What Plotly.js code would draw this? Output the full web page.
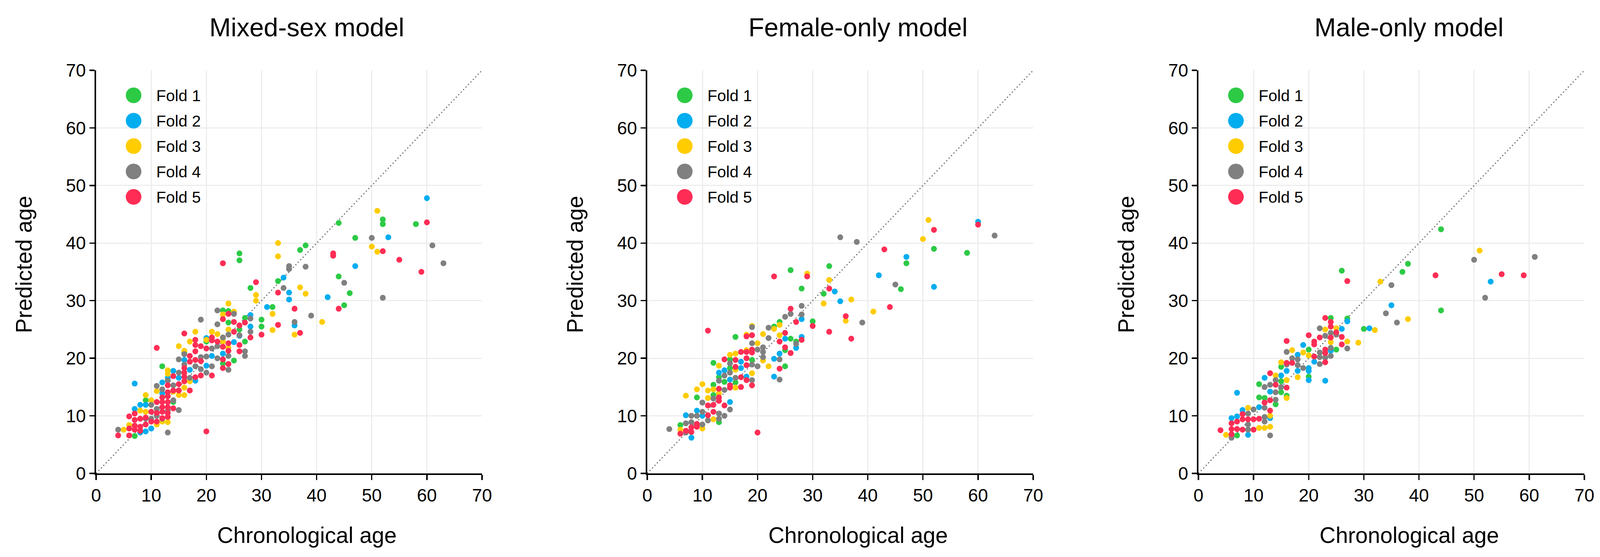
<!DOCTYPE html>
<html>
<head>
<meta charset="utf-8">
<script src="https://cdn.plot.ly/plotly-3.0.1.min.js"></script>
<style>
  html, body { margin: 0; padding: 0; background: #fff; }
  #chart { width: 4106px; height: 1426px; }
</style>
</head>
<body>
<div id="chart"></div>
<script>
var panelTitles = ['Mixed-sex model', 'Female-only model', 'Male-only model'];
var foldNames = ['Fold 1', 'Fold 2', 'Fold 3', 'Fold 4', 'Fold 5'];
var foldColors = ['#2dca46', '#00adef', '#ffcc00', '#808080', '#ff2d55'];
var xTitle = 'Chronological age';
var yTitle = 'Predicted age';
var tickValues = [0, 10, 20, 30, 40, 50, 60, 70];
var identityLine = [0, 70];

// points are [chronological age, predicted age]
var mixedFold1 = [[26,38.2],[26,37.0],[28,32.2],[27,27.0],[30,26.7],[30,25.5],[27,22.9],[25,19.6],[23,28.3],[24,28.2],
  [12,18.6],[9,12.7],[7,6.5],[23,19.1],[24,26.2],[26,25.0],[20,22.9],[16,21.0],[14,12.4],
  [44,43.5],[52,44.1],[52,43.3],[58,43.3],[47,40.9],[44,34.2],[46,31.3],[45,29.2],[37,38.8],[38,39.6],[33,33.4],[32,28.9]];
var mixedFold2 = [[31,28.9],[28,27.5],[28,25.5],[25,22.8],[16,19.7],[20,18.7],[14,17.8],[12,15.8],[15,16.6],[12,13.9],
  [7,15.6],[8,11.9],[9,11.9],[7,11.2],[10,7.8],[9,7.3],[8,7.1],[20,23.5],[17,18.0],[18,16.1],[26,23.9],[21,20.4],
  [23,20.8],[13,16.6],[60,47.8],[53,41.0],[47,36.0],[42,30.6],[34,34.0],[35,31.4],[35,30.2],[36,25.7]];
var mixedFold3 = [[29,31.0],[29,30.0],[24,29.5],[23,27.6],[25,28.1],[18,24.6],[17,22.9],[20,23.2],[21,24.6],[22,24.2],
  [23,22.9],[15,22.1],[16,21.3],[13,17.9],[13,17.3],[17,16.0],[16,14.9],[16,13.6],[15,13.6],[11,14.3],[9,13.6],
  [8,10.9],[9,10.7],[10,12.7],[11,8.5],[12,9.0],[13,8.9],[5,7.6],[6,8.4],[24,21.8],[24,25.0],[14,14.2],[23,23.6],
  [51,45.6],[50,39.4],[51,38.5],[33,40.0],[33,37.7],[37,32.3],[38,31.2],[32,27.7],[32,24.9],[41,26.3],[36,24.1]];
var mixedFold4 = [[22,28.3],[25,27.7],[19,26.7],[22,25.9],[28,26.9],[28,24.6],[27,21.2],[27,20.4],[22,22.1],[23,23.6],
  [24,24.1],[24,20.4],[24,18.0],[16,20.7],[15,19.8],[18,18.6],[19,20.2],[19,18.1],[20,17.5],[21,18.6],[15,17.5],
  [11,15.2],[13,16.1],[14,15.3],[12,14.6],[14,12.7],[15,11.0],[13,7.1],[10,11.9],[11,11.2],[10,9.5],[9,9.5],[4,7.6],
  [12,9.5],[26,24.0],[22,20.0],[21,21.7],[20,20.3],[16,18.9],[11,10.0],[13,10.9],[17,16.6],
  [50,40.9],[61,39.6],[63,36.5],[45,33.1],[39,27.4],[52,30.5],[35,36.0],[35,35.5],[38,35.9],[34,32.2],[36,26.3]];
var mixedFold5 = [[23,36.5],[29,33.2],[23,26.8],[25,26.3],[26,25.7],[27,26.2],[24,27.7],[28,23.6],[30,24.1],[26,22.3],
  [26,21.2],[16,24.3],[18,23.2],[18,22.3],[19,22.1],[20,21.7],[21,23.6],[21,23.1],[22,22.9],[23,22.0],[23,19.8],
  [23,18.3],[24,19.0],[24,22.6],[24,21.3],[25,24.6],[11,21.8],[17,20.4],[17,19.4],[18,21.2],[18,19.7],[18,16.7],
  [19,19.5],[19,17.0],[21,17.0],[17,14.4],[14,16.9],[16,18.3],[16,17.5],[16,16.8],[16,16.0],[13,15.3],[15,15.5],
  [14,14.4],[15,14.4],[12,13.2],[12,12.4],[12,11.5],[12,10.7],[13,14.1],[13,13.4],[13,12.4],[13,11.5],[13,10.5],
  [14,11.3],[20,7.3],[11,12.4],[10,10.7],[11,10.5],[11,9.0],[7,10.4],[6,9.9],[8,9.5],[9,8.5],[8,8.1],[7,9.3],
  [7,8.3],[7,7.6],[6,7.8],[6,6.6],[4,6.6],[13,9.8],[9,9.7],[10,9.0],[8,7.4],[12,9.6],
  [60,43.6],[52,38.6],[55,37.1],[59,35.0],[43,38.2],[43,37.8],[44,28.6],[33,31.4],[33,25.8],[36,28.6],[37,24.4]];

var femaleFold1 = [[26,35.3],[28,32.1],[32,31.2],[30,26.4],[23,25.5],[24,26.3],[16,23.7],[26,23.4],[27,22.9],[25,21.4],
  [19,19.7],[15,19.8],[15,18.3],[12,19.2],[13,16.7],[16,15.8],[12,15.4],[14,15.9],[9,13.2],[12,13.6],[13,8.9],[6,8.4],
  [25,18.6],[33,36.0],[47,36.5],[46,32.0],[52,39.0],[58,38.3]];
var femaleFold2 = [[28,26.8],[25,23.4],[28,23.7],[27,21.8],[17,19.4],[17,18.3],[13,17.5],[14,17.9],[15,16.3],[18,16.8],
  [15,12.4],[10,10.0],[9,10.9],[7,10.1],[8,6.2],[23,19.9],[24,20.8],[23,16.8],[34,31.6],[35,29.9],[42,34.4],
  [47,37.6],[52,32.4],[60,43.7]];
var femaleFold3 = [[29,34.7],[32,29.5],[19,25.6],[23,25.1],[24,25.8],[18,24.1],[21,24.2],[24,24.0],[20,22.6],[18,21.4],
  [21,19.6],[15,20.6],[16,20.8],[13,18.7],[16,18.0],[16,14.9],[11,14.4],[12,14.6],[10,15.5],[9,14.6],[7,13.5],
  [13,13.9],[11,13.1],[12,9.4],[10,7.8],[6,7.6],[22,18.6],[19,17.4],[33,33.6],[37,30.2],[36,26.5],[41,28.1],
  [51,44.0],[50,40.7]];
var femaleFold4 = [[28,29.1],[26,27.7],[25,27.2],[28,27.6],[19,25.4],[22,25.3],[22,23.5],[27,22.5],[19,22.6],[21,21.9],
  [21,21.1],[21,20.2],[20,21.5],[15,19.1],[19,18.9],[20,18.6],[15,17.5],[14,17.0],[16,16.6],[19,16.2],[13,16.1],
  [14,14.5],[12,13.0],[15,11.1],[10,12.3],[13,10.4],[13,9.5],[14,10.0],[11,9.2],[8,10.0],[9,10.0],[10,10.7],
  [10,8.5],[8,8.9],[7,8.7],[7,7.1],[4,7.7],[24,19.8],[24,16.3],[35,41.0],[38,40.2],[45,32.8],[39,26.2],[63,41.3]];
var femaleFold5 = [[23,34.2],[29,34.2],[26,28.6],[27,26.3],[30,25.6],[11,24.8],[18,23.8],[19,24.0],[25,24.4],[24,22.9],
  [28,23.2],[25,21.9],[26,20.9],[17,21.1],[18,21.1],[19,21.5],[19,21.0],[18,20.0],[14,19.8],[16,19.7],[18,18.8],
  [16,18.5],[17,16.7],[18,16.2],[19,15.3],[17,15.0],[15,14.9],[15,15.3],[13,14.7],[13,13.2],[13,12.6],[14,11.8],
  [11,11.8],[12,11.9],[12,10.7],[11,10.1],[9,8.6],[9,8.1],[8,8.0],[8,7.2],[7,7.4],[6,6.9],[20,7.1],[24,18.2],
  [33,32.1],[33,24.6],[36,27.3],[37,23.4],[44,28.9],[43,38.9],[52,42.3],[60,43.2]];

var maleFold1 = [[27,26.9],[30,25.1],[25,21.5],[24,27.0],[20,21.5],[15,18.5],[20,16.8],[15,16.0],[11,15.5],[15,14.1],
  [16,13.5],[11,13.2],[12,13.1],[14,12.0],[7,6.6],[26,35.2],[37,35.0],[38,36.4],[44,42.4],[44,28.3]];
var maleFold2 = [[27,26.4],[31,25.2],[26,25.1],[24,21.3],[19,22.3],[18,20.6],[21,19.4],[16,17.8],[18,17.8],[20,18.3],
  [20,17.8],[20,16.2],[23,16.1],[15,17.0],[12,16.6],[13,14.2],[11,11.5],[8,11.0],[7,9.9],[6,9.6],[9,6.7],[7,14.0],
  [13,9.6],[35,29.2],[53,33.3]];
var maleFold3 = [[32,24.9],[29,22.7],[27,22.9],[25,25.2],[24,22.8],[23,25.0],[17,21.4],[19,21.0],[20,20.5],[15,19.3],
  [18,16.7],[14,17.0],[16,16.2],[16,13.1],[9,11.4],[11,7.9],[12,7.9],[13,8.1],[13,10.0],[5,6.7],[33,33.3],[38,26.8],
  [51,38.7]];
var maleFold4 = [[27,21.7],[25,24.1],[24,24.4],[24,21.8],[24,20.4],[22,25.2],[23,23.9],[22,21.0],[22,20.2],[22,19.0],
  [23,20.1],[16,21.1],[17,20.0],[18,19.8],[16,18.9],[18,18.8],[19,18.3],[14,16.2],[15,15.0],[12,15.0],[13,15.4],
  [14,14.1],[14,12.8],[12,11.4],[10,11.1],[12,9.8],[12,9.0],[9,10.4],[9,8.5],[9,7.6],[13,6.6],[6,6.2],[35,32.7],
  [34,27.8],[36,26.2],[50,37.1],[61,37.6],[52,30.5]];
var maleFold5 = [[27,33.4],[26,23.7],[26,22.4],[25,24.5],[23,27.0],[24,26.3],[24,25.5],[24,23.6],[22,23.6],[20,24.0],
  [21,22.9],[21,22.4],[23,21.5],[23,20.9],[21,20.3],[23,19.3],[16,23.0],[16,19.2],[17,19.2],[13,17.4],[14,15.4],
  [16,14.9],[12,12.3],[13,12.7],[13,10.9],[8,10.3],[6,8.7],[7,9.0],[8,9.4],[9,9.4],[10,9.4],[11,9.5],[10,7.6],
  [4,7.5],[6,6.8],[7,7.7],[8,7.6],[6,7.7],[43,34.4],[55,34.6],[59,34.4]];

var panels = [
  [mixedFold1, mixedFold2, mixedFold3, mixedFold4, mixedFold5],
  [femaleFold1, femaleFold2, femaleFold3, femaleFold4, femaleFold5],
  [maleFold1, maleFold2, maleFold3, maleFold4, maleFold5]
];

// page geometry in pixels
var W = 4106, H = 1426;
var plotLeft = [246, 1657, 3068];
var plotWidth = 988;
var plotTop = 180, plotBottom = 1212;
var font = 'Liberation Sans, Arial, Helvetica, sans-serif';

function px(x) { return x / W; }
function py(y) { return 1 - y / H; }

var data = [];
var layout = {
  width: W,
  height: H,
  margin: { l: 0, r: 0, t: 0, b: 0 },
  paper_bgcolor: '#fff',
  plot_bgcolor: '#fff',
  showlegend: false,
  font: { family: font, color: '#000' },
  annotations: [],
  shapes: []
};

panels.forEach(function(folds, p) {
  var sfx = p === 0 ? '' : String(p + 1);

  data.push({
    x: identityLine, y: identityLine,
    xaxis: 'x' + sfx, yaxis: 'y' + sfx,
    mode: 'lines', type: 'scatter', hoverinfo: 'skip',
    line: { color: '#6e6e6e', width: 3, dash: '3px,6px' }
  });

  folds.forEach(function(pts, f) {
    data.push({
      x: pts.map(function(d) { return d[0]; }),
      y: pts.map(function(d) { return d[1]; }),
      xaxis: 'x' + sfx, yaxis: 'y' + sfx,
      name: foldNames[f],
      mode: 'markers', type: 'scatter',
      marker: { size: 15, color: foldColors[f], line: { width: 0 } }
    });
  });

  var axisCommon = {
    range: [0, 70],
    tickvals: tickValues,
    ticks: 'outside', ticklen: 13, tickwidth: 3.5, tickcolor: '#000',
    showline: true, linecolor: '#000', linewidth: 4,
    showgrid: true, gridcolor: '#ededed', gridwidth: 3,
    zeroline: false, fixedrange: true,
    tickfont: { family: font, size: 46, color: '#000' }
  };

  layout['xaxis' + sfx] = Object.assign({}, axisCommon, {
    domain: [px(plotLeft[p]), px(plotLeft[p] + plotWidth)],
    anchor: 'y' + sfx
  });
  layout['yaxis' + sfx] = Object.assign({}, axisCommon, {
    domain: [py(plotBottom), py(plotTop)],
    anchor: 'x' + sfx
  });

  var cx = plotLeft[p] + plotWidth / 2 + 45;

  layout.annotations.push({
    text: panelTitles[p], xref: 'paper', yref: 'paper',
    x: px(cx), y: py(70), xanchor: 'center', yanchor: 'middle',
    showarrow: false, font: { family: font, size: 66, color: '#000' }
  });
  layout.annotations.push({
    text: xTitle, xref: 'paper', yref: 'paper',
    x: px(cx), y: py(1370), xanchor: 'center', yanchor: 'middle',
    showarrow: false, font: { family: font, size: 57, color: '#000' }
  });
  layout.annotations.push({
    text: yTitle, xref: 'paper', yref: 'paper', textangle: -90,
    x: px(plotLeft[p] - 185), y: py(677), xanchor: 'center', yanchor: 'middle',
    showarrow: false, font: { family: font, size: 57, color: '#000' }
  });

  // legend: big dots with labels in the top-left corner of each panel
  foldNames.forEach(function(name, f) {
    var ly = 244 + f * 65;
    var lx = plotLeft[p] + 96;
    layout.shapes.push({
      type: 'circle', xref: 'paper', yref: 'paper',
      x0: px(lx - 20), x1: px(lx + 20), y0: py(ly + 20), y1: py(ly - 20),
      fillcolor: foldColors[f], line: { width: 0 }
    });
    layout.annotations.push({
      text: name, xref: 'paper', yref: 'paper',
      x: px(lx + 56), y: py(ly + 1), xanchor: 'left', yanchor: 'middle',
      showarrow: false, font: { family: font, size: 41, color: '#000' }
    });
  });
});

Plotly.newPlot('chart', data, layout, { staticPlot: true, displayModeBar: false });
</script>
</body>
</html>
